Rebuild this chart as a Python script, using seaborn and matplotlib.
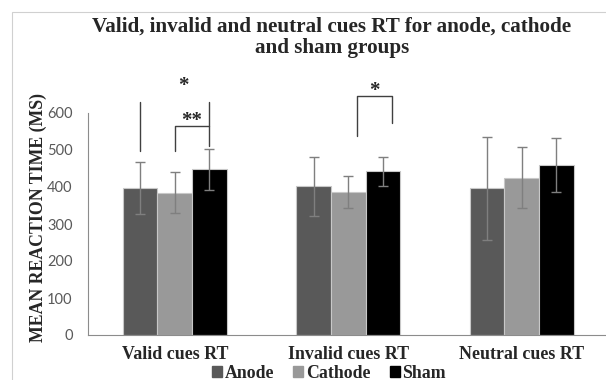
import numpy as np
import pandas as pd
import seaborn as sns
import matplotlib.pyplot as plt
from matplotlib.patches import Rectangle

# values
cues = ["Valid cues RT", "Invalid cues RT", "Neutral cues RT"]
groups = ["Anode", "Cathode", "Sham"]
anode_rt = [398, 402, 396]
cathode_rt = [385, 387, 425]
sham_rt = [448, 442, 460]
anode_err = [70, 80, 138]
cathode_err = [55, 44, 82]
sham_err = [56, 39, 73]

colors = ["#595959", "#999999", "#000000"]

df = pd.DataFrame({
    "cue": cues * 3,
    "group": [g for g in groups for _ in cues],
    "rt": anode_rt + cathode_rt + sham_rt,
})
errs = [anode_err, cathode_err, sham_err]

sns.set_style("white")
plt.rcParams["font.family"] = ["Liberation Serif", "DejaVu Serif"]

fig = plt.figure(figsize=(6.06, 3.8), dpi=100)
ax = fig.add_axes([88 / 606, (380 - 335) / 380, (612 - 88) / 606, 222 / 380])

sns.barplot(data=df, x="cue", y="rt", hue="group", order=cues, hue_order=groups,
            palette=colors, width=0.6, edgecolor="#c8c8c8", linewidth=0.8,
            saturation=1, errorbar=None, ax=ax)

# error bars on top of each bar
for cont, err in zip(ax.containers, errs):
    xs = [b.get_x() + b.get_width() / 2 for b in cont]
    ys = [b.get_height() for b in cont]
    ax.errorbar(xs, ys, yerr=err, fmt="none", ecolor="#7f7f7f", elinewidth=1,
                capsize=3.5, capthick=1)

ax.set_ylim(0, 600)
ax.set_xlim(-0.5, 2.52)
ax.set_yticks(range(0, 601, 100))
ax.tick_params(axis="y", labelsize=10.5, labelcolor="#595959", length=0, pad=11)
for t in ax.get_yticklabels():
    t.set_family("Lato")
ax.tick_params(axis="x", length=0, pad=8)
ax.set_xticks(range(3))
ax.set_xticklabels(cues, fontsize=12.9, fontweight="bold")
ax.set_xlabel("")
ax.set_ylabel("MEAN REACTION TIME (MS)", fontsize=12.8, fontweight="bold")
ax.yaxis.set_label_coords(-0.078, 0.53)

sns.despine(ax=ax, top=True, right=True)
ax.spines["left"].set_color("#8c8c8c")
ax.spines["bottom"].set_color("#8c8c8c")

# significance marks
def cx(h, c):
    b = ax.containers[h][c]
    return b.get_x() + b.get_width() / 2

kw = dict(color="#404040", lw=1, clip_on=False)
ax.plot([cx(0, 0), cx(0, 0)], [497, 630], **kw)
ax.plot([cx(1, 0), cx(1, 0), cx(2, 0), cx(2, 0)], [497, 566, 566, 512], **kw)
ax.plot([cx(2, 0), cx(2, 0)], [566, 630], **kw)
ax.text((cx(1, 0) + cx(2, 0)) / 2, 552, "**", ha="center", va="bottom",
        fontsize=15, fontweight="bold")
ax.text(cx(1, 0) + 0.05, 645, "*", ha="center", va="bottom",
        fontsize=15, fontweight="bold")
off = 0.05
ax.plot([cx(1, 1) + off, cx(1, 1) + off, cx(2, 1) + off, cx(2, 1) + off],
        [537, 645, 645, 574], **kw)
ax.text((cx(1, 1) + cx(2, 1)) / 2 + off, 632, "*", ha="center", va="bottom",
        fontsize=15, fontweight="bold")

ax.legend_.remove()
handles = [plt.Rectangle((0, 0), 1, 1, color=c) for c in colors]
fig.legend(handles, groups, loc="center", bbox_to_anchor=(329 / 606, 1 - 373 / 380),
           ncol=3, frameon=False, handlelength=0.55, handleheight=0.55,
           handletextpad=0.15, columnspacing=1.1, borderpad=0.1,
           prop={"family": "Liberation Serif", "weight": "bold", "size": 12.8})

fig.suptitle("Valid, invalid and neutral cues RT for anode, cathode\nand sham groups",
             x=332 / 606, y=1 - 17 / 380, va="top", fontsize=15.2, fontweight="bold",
             linespacing=1.08)

fig.patches.append(Rectangle((12 / 606, -0.1), 1.2, (380 - 12) / 380 + 0.1,
                             transform=fig.transFigure, fill=False,
                             edgecolor="#d0d0d0", lw=0.8))

fig.savefig("out.png", dpi=100)
